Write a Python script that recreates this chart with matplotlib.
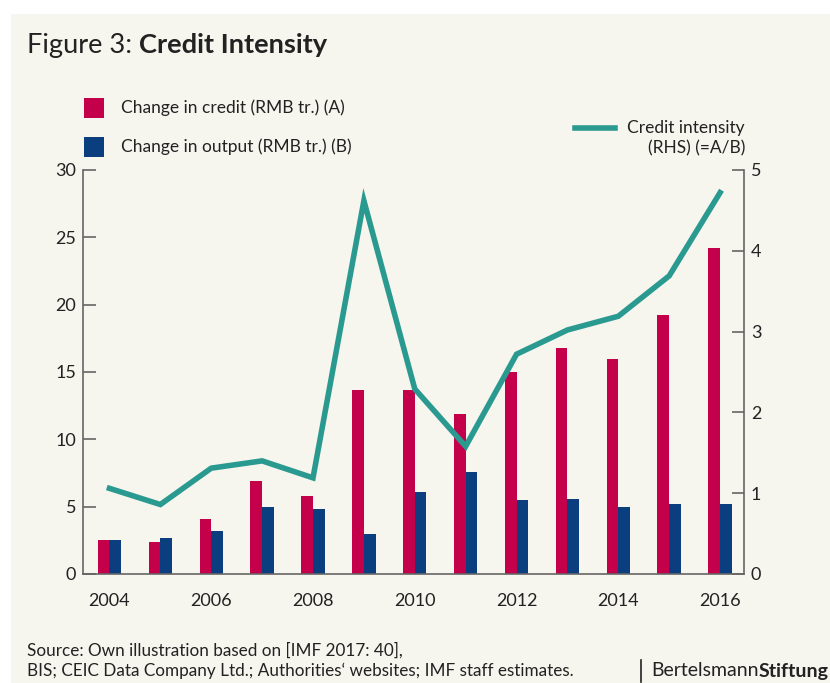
import numpy as np
import matplotlib
matplotlib.use('Agg')
import matplotlib.pyplot as plt
from matplotlib.patches import Rectangle
from matplotlib.lines import Line2D

plt.rcParams['font.family'] = ['Lato', 'DejaVu Sans']

years = [2004, 2005, 2006, 2007, 2008, 2009, 2010,
         2011, 2012, 2013, 2014, 2015, 2016]
credit_change = [2.5, 2.4, 4.1, 6.9, 5.8, 13.7, 13.7,
                 11.9, 15.0, 16.8, 16.0, 19.2, 24.2]
output_change = [2.5, 2.7, 3.2, 5.0, 4.8, 3.0, 6.1,
                 7.6, 5.5, 5.6, 5.0, 5.2, 5.2]
intensity = [1.06, 0.86, 1.31, 1.40, 1.19, 4.62, 2.29,
             1.58, 2.72, 3.02, 3.19, 3.69, 4.72]
xtick_years = [2004, 2006, 2008, 2010, 2012, 2014, 2016]

RED = '#C4004B'
BLUE = '#0B3E7E'
TEAL = '#2A9A91'
BG = '#F6F5EE'
TXT = '#222222'
AXC = '#666666'

W, H = 830, 683
fig = plt.figure(figsize=(W / 100, H / 100), dpi=100, facecolor='white')

# cream panel behind everything
fig.patches.append(Rectangle((11 / W, 0), 1, 1 - 14 / H, transform=fig.transFigure,
                             facecolor=BG, edgecolor='none', zorder=-10))

ax = fig.add_axes([83 / W, 1 - 574 / H, (744 - 83) / W, (574 - 170) / H])
ax.set_facecolor('none')
ax2 = ax.twinx()

x = np.array(years)
bw = 0.23
ax.bar(x - bw / 2, credit_change, bw, color=RED, zorder=2)
ax.bar(x + bw / 2, output_change, bw, color=BLUE, zorder=2)
ax2.plot(x, intensity, color=TEAL, lw=4, solid_joinstyle='miter', zorder=3)

ax.set_xlim(2003.48, 2016.47)
ax.set_ylim(0, 30)
ax2.set_ylim(0, 5)
ax.set_yticks(range(0, 31, 5))
ax2.set_yticks(range(0, 6))
ax.set_xticks(xtick_years)

for a in (ax, ax2):
    a.spines['top'].set_visible(False)
    for s in a.spines.values():
        s.set_color(AXC)
        s.set_linewidth(1.2)
ax.spines['right'].set_visible(False)
ax2.spines['left'].set_visible(False)
ax2.spines['bottom'].set_visible(False)

ax.tick_params(axis='y', direction='in', length=9, width=1.2, color=AXC,
               labelsize=13, labelcolor=TXT, pad=5)
ax2.tick_params(axis='y', direction='in', length=9, width=1.2, color=AXC,
                labelsize=13, labelcolor=TXT, pad=5)
ax.tick_params(axis='x', length=0, labelsize=13, labelcolor=TXT, pad=14)

# legend
fig.patches.append(Rectangle((84 / W, 1 - 118 / H), 20 / W, 20 / H, transform=fig.transFigure,
                             facecolor=RED, edgecolor='none'))
fig.patches.append(Rectangle((84 / W, 1 - 157 / H), 20 / W, 20 / H, transform=fig.transFigure,
                             facecolor=BLUE, edgecolor='none'))
fig.text(121 / W, 1 - 108 / H, 'Change in credit (RMB tr.) (A)', fontsize=12.5,
         color=TXT, va='center')
fig.text(121 / W, 1 - 147 / H, 'Change in output (RMB tr.) (B)', fontsize=12.5,
         color=TXT, va='center')
fig.lines.append(Line2D([575 / W, 615 / W], [1 - 128 / H, 1 - 128 / H],
                        transform=fig.transFigure, color=TEAL, lw=4))
fig.text(745 / W, 1 - 128 / H, 'Credit intensity', fontsize=12.5, color=TXT,
         va='center', ha='right')
fig.text(745 / W, 1 - 148 / H, '(RHS) (=A/B)', fontsize=12.5, color=TXT,
         va='center', ha='right')

# title and footer, each with a regular and a bold part
fig.canvas.draw()
r = fig.canvas.get_renderer()

t1 = fig.text(27 / W, 1 - 53 / H, 'Figure 3: ', fontsize=19.6, color=TXT)
bb = t1.get_window_extent(r)
fig.text(bb.x1 / W, 1 - 53 / H, 'Credit Intensity', fontsize=19.6,
         color=TXT, fontweight='bold')

fig.text(27 / W, 1 - 650 / H, 'Source: Own illustration based on [IMF 2017: 40],',
         fontsize=12.3, color=TXT, va='center')
fig.text(27 / W, 1 - 671 / H,
         'BIS; CEIC Data Company Ltd.; Authorities\u2018 websites; IMF staff estimates.',
         fontsize=12.3, color=TXT, va='center')

fig.lines.append(Line2D([641 / W, 641 / W], [1 - 682 / H, 1 - 660 / H],
                        transform=fig.transFigure, color=TXT, lw=1.2))
b1 = fig.text(651 / W, 1 - 671 / H, 'Bertelsmann', fontsize=14, color=TXT, va='center')
bb = b1.get_window_extent(r)
fig.text(bb.x1 / W, 1 - 671 / H, 'Stiftung', fontsize=14, color=TXT,
         va='center', fontweight='bold')

fig.savefig('out.png', dpi=100, facecolor='white')
